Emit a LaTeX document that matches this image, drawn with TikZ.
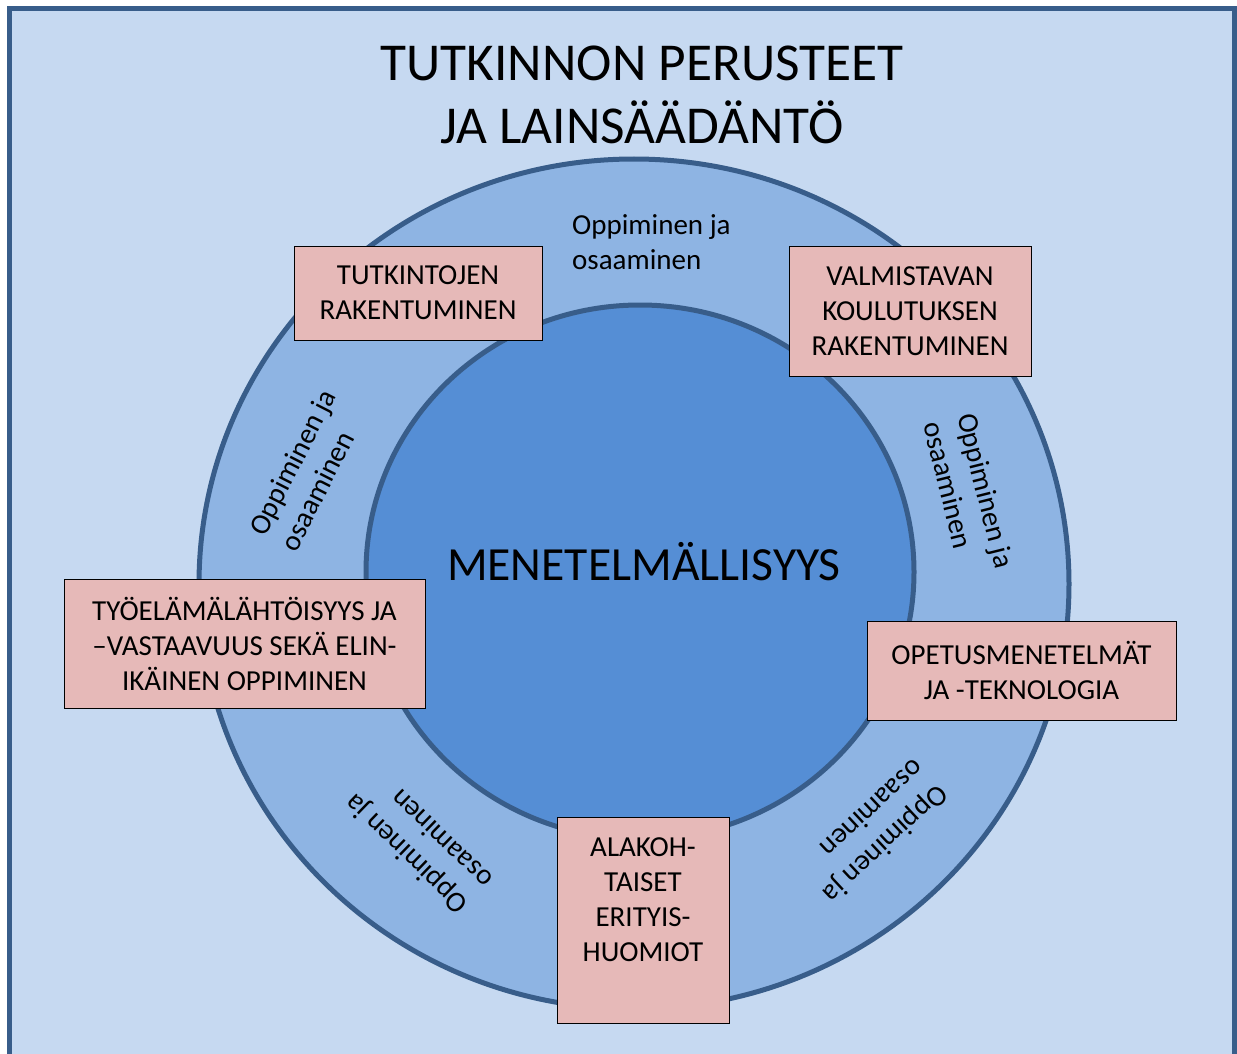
\documentclass[tikz,border=0pt]{standalone}
\usepackage{fontspec}
\setmainfont{Carlito}
\usetikzlibrary{shapes.geometric}
\definecolor{bgblue}{HTML}{C6D9F1}
\definecolor{ringblue}{HTML}{8EB4E3}
\definecolor{coreblue}{HTML}{558ED5}
\definecolor{edgeblue}{HTML}{385D8A}
\definecolor{boxrose}{HTML}{E6B9B8}

\begin{document}
\begin{tikzpicture}[x=1pt,y=-1pt,
  topicbox/.style={rectangle, draw=black, line width=0.8pt, fill=boxrose,
    inner sep=0pt, font=\fontsize{29}{35}\selectfont, align=center},
  boxtext/.style={inner sep=0pt, font=\fontsize{29}{35}\selectfont, align=center},
  ringlabel/.style={inner sep=0pt, font=\fontsize{29}{35}\selectfont, align=left},
  disc/.style={ellipse, draw=edgeblue, line width=5pt, inner sep=0pt}]

% page and framed background
\useasboundingbox (0,0) rectangle (1237,1054);
\fill[white] (0,0) rectangle (1237,1054);
\draw[edgeblue, line width=5pt, fill=bgblue] (9.5,8.5) rectangle (1234.5,1080);

% title
\node[inner sep=0pt, font=\fontsize{53.3}{63}\selectfont, align=center] (title)
  at (642,95) {TUTKINNON PERUSTEET\\JA LAINSÄÄDÄNTÖ};

% outer ring and inner core
\node[disc, fill=ringblue, minimum width=870pt, minimum height=850pt] (ring) at (634,584) {};
\node[disc, fill=coreblue, minimum width=548pt, minimum height=534pt] (core) at (640,572) {};

\node[inner sep=0pt, font=\fontsize{47.6}{56}\selectfont, anchor=base] (method)
  at (644,580) {MENETELMÄLLISYYS};

% labels around the ring
\node[ringlabel, anchor=west] (lbltop) at (572,242) {Oppiminen ja\\osaaminen};
\node[ringlabel, rotate=63] (lblul) at (308,470) {Oppiminen ja\\osaaminen};
\node[ringlabel, rotate=-76] (lblr) at (969,495) {Oppiminen ja\\osaaminen};
\node[ringlabel, rotate=-137] (lbllr) at (874,832) {Oppiminen ja\\osaaminen};
\node[ringlabel, rotate=136] (lblll) at (418,842) {Oppiminen ja\\osaaminen};

% topic boxes
\node[topicbox, minimum width=248pt, minimum height=94pt] (tutk) at (418,293)
  {TUTKINTOJEN\\RAKENTUMINEN};
\node[topicbox, minimum width=242pt, minimum height=130pt] (valm) at (910,311)
  {VALMISTAVAN\\KOULUTUKSEN\\RAKENTUMINEN};
\node[topicbox, minimum width=361pt, minimum height=129pt] (tyo) at (244.5,643.5)
  {TYÖELÄMÄLÄHTÖISYYS JA\\–VASTAAVUUS SEKÄ ELIN-\\IKÄINEN OPPIMINEN};
\node[topicbox, minimum width=309pt, minimum height=99pt] (opet) at (1021.5,670.5)
  {OPETUSMENETELMÄT\\JA -TEKNOLOGIA};
\node[topicbox, minimum width=172pt, minimum height=206pt] (ala) at (643,920) {};
\node[boxtext] (alatext) at (643,900) {ALAKOH-\\TAISET\\ERITYIS-\\HUOMIOT};

\end{tikzpicture}
\end{document}
